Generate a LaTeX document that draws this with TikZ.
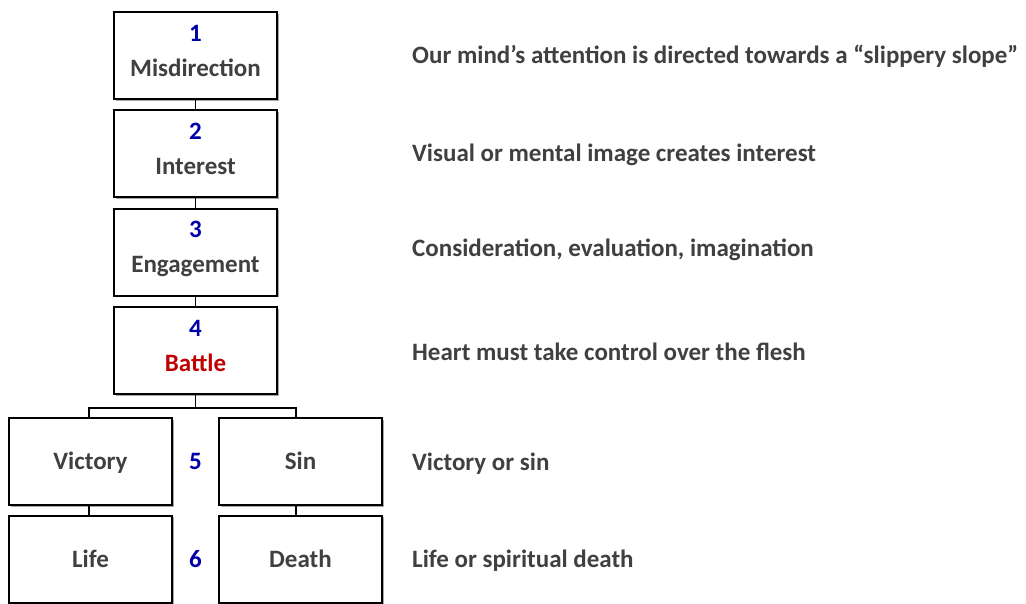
\documentclass[tikz,border=0pt]{standalone}
\usepackage{fontspec}
\setmainfont{Carlito}
\usetikzlibrary{shadows,calc}
\definecolor{txt}{HTML}{404040}
\definecolor{numblue}{HTML}{0000A8}
\definecolor{battlered}{HTML}{C00000}
\begin{document}
\begin{tikzpicture}[x=1pt,y=-1pt,
  box/.style={draw=black, line width=2pt, fill=white, minimum width=163pt, minimum height=87pt,
    inner sep=0pt, align=center, font=\bfseries\fontsize{25}{35}\selectfont, text=txt,
    text height=16pt, text depth=0pt,
    drop shadow={shadow xshift=1.5pt, shadow yshift=-1.5pt, opacity=0.35, fill=black}},
  twoline/.style={text height=41pt},
  conn/.style={draw=black, line width=1.5pt},
  desc/.style={anchor=west, inner sep=0pt, font=\bfseries\fontsize{25}{30}\selectfont, text=txt,
    text height=16pt, text depth=0pt},
  num/.style={inner sep=0pt, font=\bfseries\fontsize{25}{30}\selectfont, text=numblue,
    text height=16pt, text depth=0pt}]
\useasboundingbox (0,0) rectangle (1026,603);
\node[box,twoline] (b1) at (195.5,55.5) {{\color{numblue}1}\\Misdirection};
\node[box,twoline] (b2) at (195.5,153.5) {{\color{numblue}2}\\Interest};
\node[box,twoline] (b3) at (195.5,252) {{\color{numblue}3}\\Engagement};
\node[box,twoline] (b4) at (195.5,350.5) {{\color{numblue}4}\\{\color{battlered}Battle}};
\node[box] (v) at (90.5,461.5) {Victory};
\node[box] (s) at (300.5,461.5) {Sin};
\node[box] (l) at (90.5,559) {Life};
\node[box] (d) at (300.5,559) {Death};
\node[num] (n5) at (195.5,461) {5};
\node[num] (n6) at (195.5,559) {6};
\draw[conn] (b1) -- (b2);
\draw[conn] (b2) -- (b3);
\draw[conn] (b3) -- (b4);
\draw[conn] (b4.south) -- ++(0,13) coordinate (bus);
\draw[conn] ($(v.north)+(-1.5,0)$) |- (bus) -| ($(s.north)+(-4.5,0)$);
\draw[conn] ($(v.south)+(-1.5,0)$) -- ($(l.north)+(-1.5,0)$);
\draw[conn] ($(s.south)+(-4.5,0)$) -- ($(d.north)+(-4.5,0)$);
\node[desc] (t1) at (412,55) {Our mind’s attention is directed towards a “slippery slope”};
\node[desc] (t2) at (412,153) {Visual or mental image creates interest};
\node[desc] (t3) at (412,248) {Consideration, evaluation, imagination};
\node[desc] (t4) at (412,352) {Heart must take control over the flesh};
\node[desc] (t5) at (412,462) {Victory or sin};
\node[desc] (t6) at (412,559) {Life or spiritual death};
\end{tikzpicture}
\end{document}
